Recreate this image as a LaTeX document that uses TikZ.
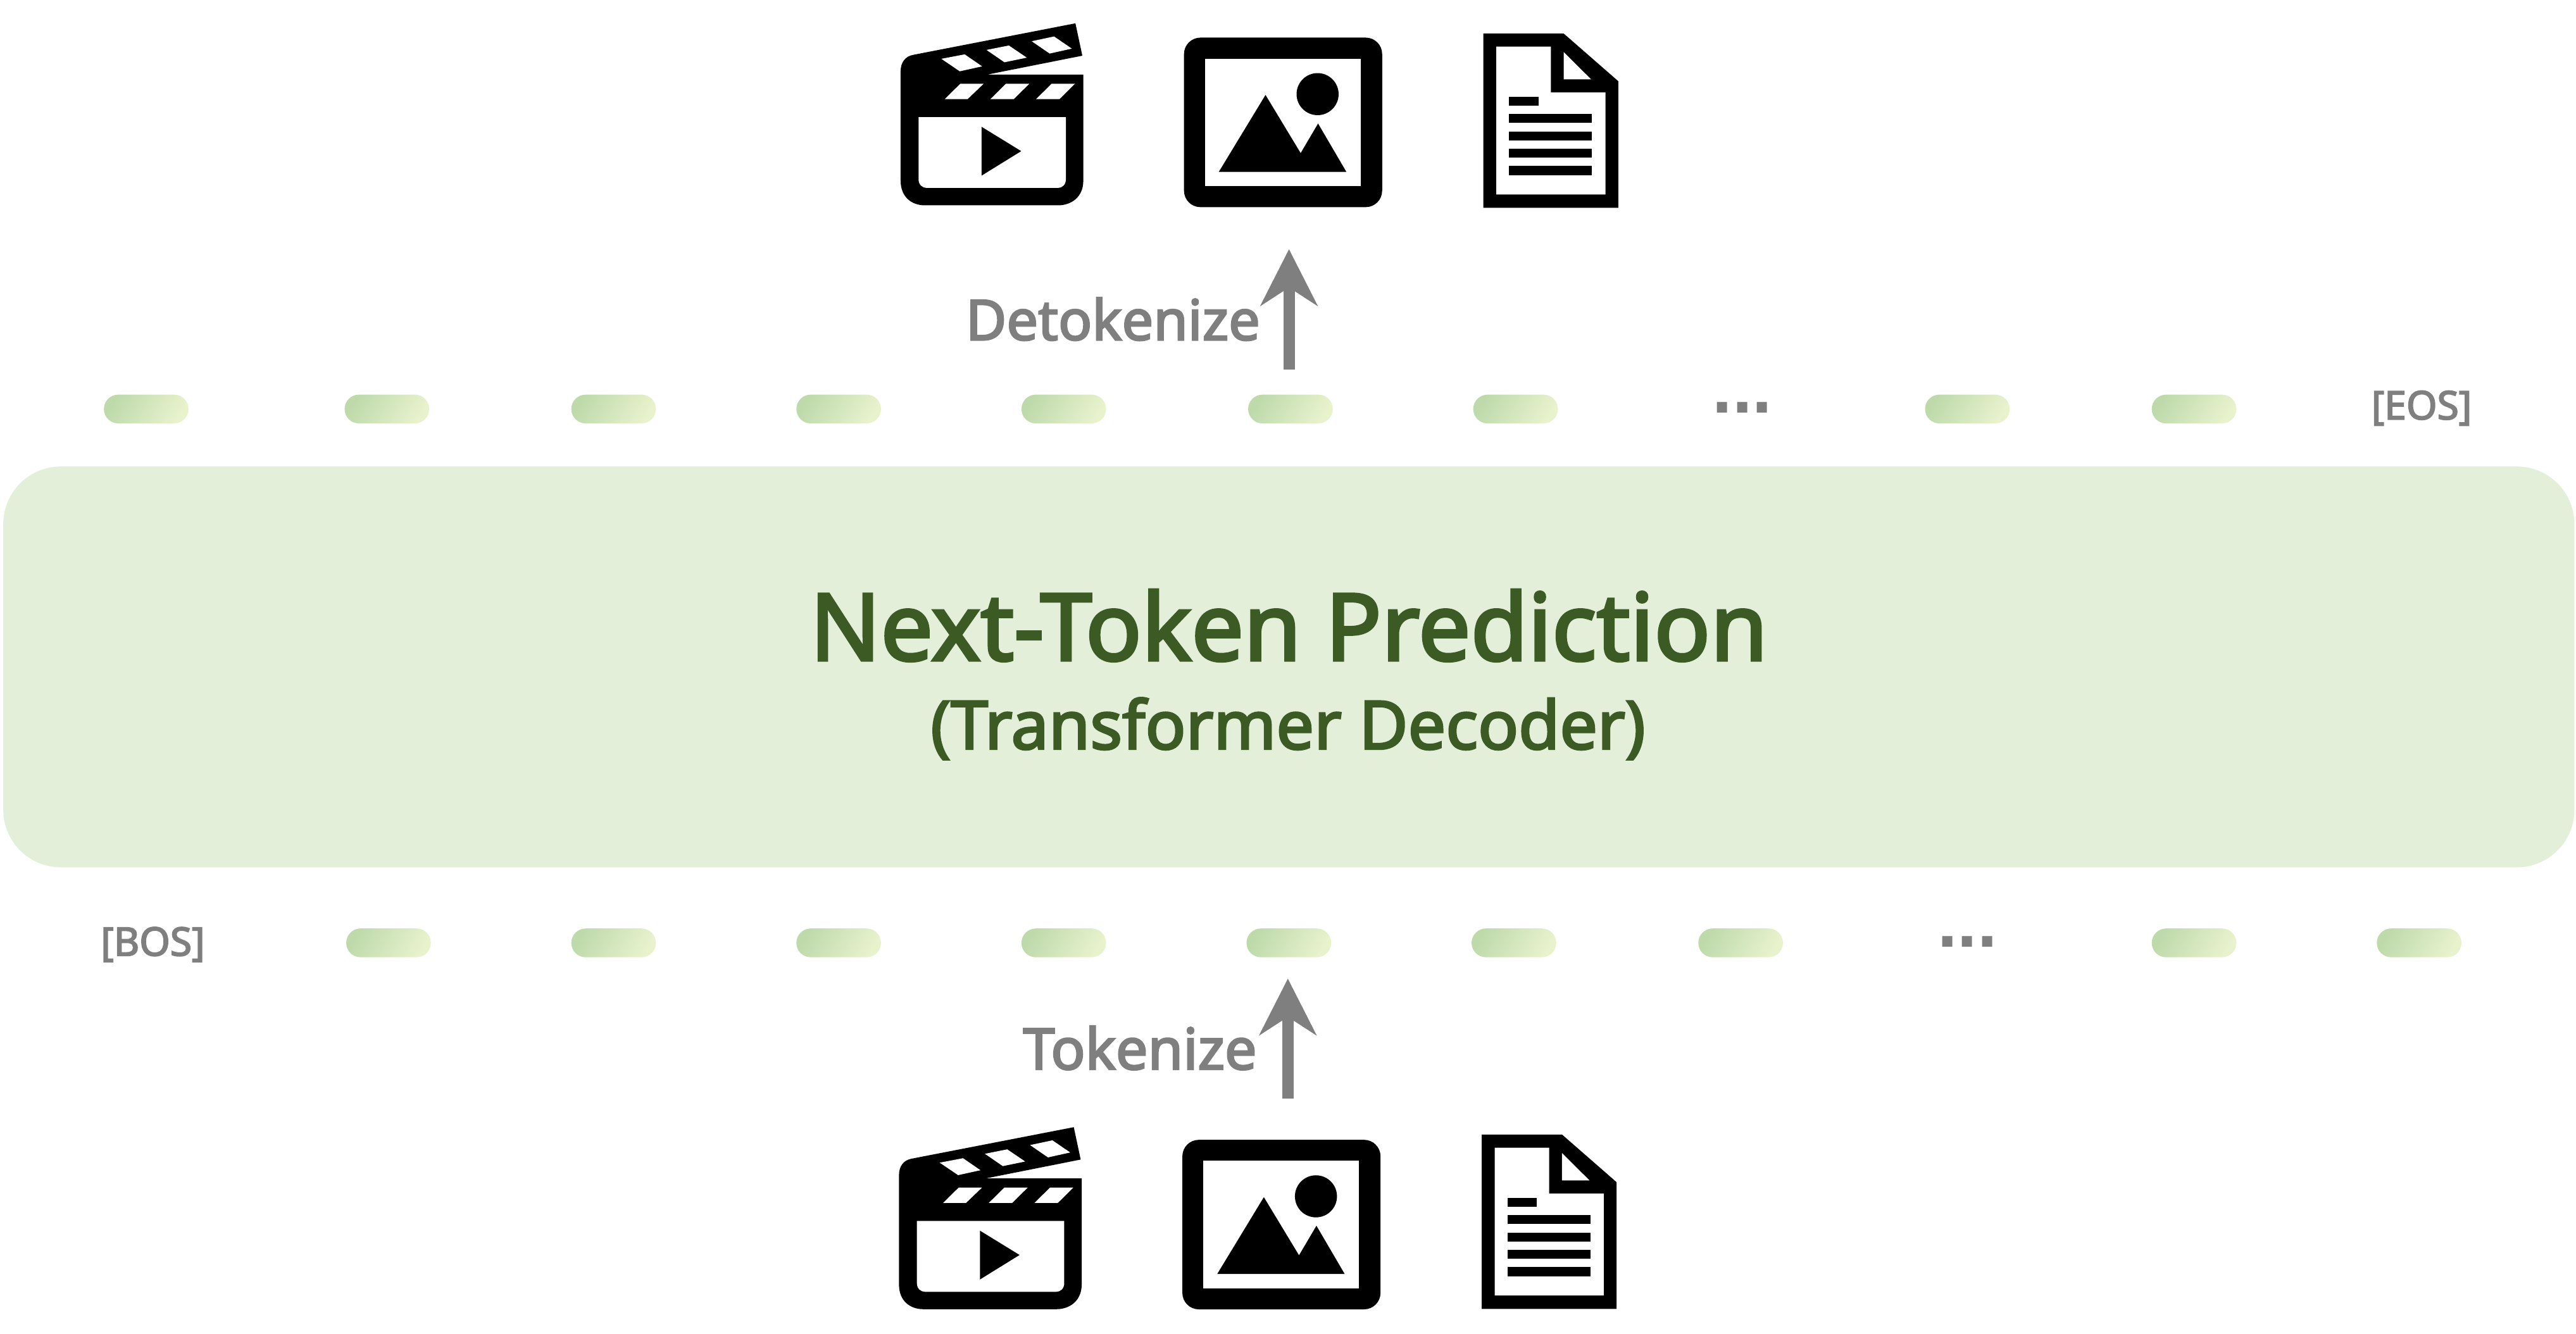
\documentclass[tikz,border=0pt]{standalone}
\usepackage{fontspec}
\usetikzlibrary{arrows.meta,shapes.misc}
\newfontfamily\labfont[FakeBold=3]{Noto Sans}
\newfontfamily\maintxt[FakeBold=3]{Noto Sans}
\newfontfamily\dotfont{Liberation Sans Bold}
\definecolor{boxg}{HTML}{E3EFD9}
\definecolor{dkg}{HTML}{3B5A24}
\definecolor{gry}{HTML}{7F7F7F}
\definecolor{pa}{HTML}{BEDAAB}
\definecolor{pb}{HTML}{E8F2CD}
\tikzset{
  pill/.style={rounded corners=8.7pt,minimum width=51.5pt,minimum height=17.5pt,inner sep=0pt,outer sep=0pt,left color=pa,right color=pb,shading angle=60},
  glab/.style={text=gry,inner sep=0pt,outer sep=0pt,font=\labfont\fontsize{34}{36}\selectfont,anchor=base east},
  smlab/.style={text=gry,inner sep=0pt,outer sep=0pt,font=\labfont\fontsize{24}{26}\selectfont,anchor=center},
  dots/.style={text=gry,inner sep=0pt,outer sep=0pt,font=\dotfont\fontsize{43.5}{46}\selectfont,anchor=base},
  flow/.style={draw=gry,line width=7pt,-{Stealth[length=34.3pt,width=34.5pt,inset=11pt]}}
}
\newcommand{\MediaIcons}[4]{%
\begin{scope}[shift={(#1,#2)}]
  % clapperboard
  \fill[black] (555.8,33.4) -- (654.6,14.2) -- (658.8,33.9) -- (601,45.4) -- (659.4,45.4) -- (659.4,110)
    .. controls (659.4,120) and (652,125) .. (644,125) -- (563,125)
    .. controls (555,125) and (548.2,120) .. (548.2,110) -- (548.2,43.4)
    .. controls (548.2,38) and (551,34.3) .. (555.8,33.4) -- cycle;
  \fill[white] (559.1,71.3) -- (648.8,71.3) -- (648.8,109) .. controls (648.8,112.5) and (646.5,114.4) .. (644,114.4)
    -- (564,114.4) .. controls (561.5,114.4) and (559.1,112.5) .. (559.1,109) -- cycle;
  \fill[black] (597.5,77.2) -- (621.6,92) -- (597.5,106.9) -- cycle;
  \fill[white] (584.5,51) -- (598.7,51) -- (589,60.3) -- (575.1,60.3) -- cycle;
  \fill[white] (612.3,51) -- (626.5,51) -- (617.1,60.3) -- (602.9,60.3) -- cycle;
  \fill[white] (640.1,51) -- (654.3,51) -- (644.9,60.3) -- (630.7,60.3) -- cycle;
  \fill[white] (573,35.8) -- (587.2,33.1) -- (597.8,40.4) -- (584.2,43.4) -- cycle;
  \fill[white] (600.5,30.4) -- (614.1,27.7) -- (625,35.1) -- (611.4,37.9) -- cycle;
  \fill[white] (628,25.1) -- (641.6,22.2) -- (652.4,29.6) -- (638.9,32.6) -- cycle;
\end{scope}
\begin{scope}[shift={(#1,#3)}]
  % picture
  \fill[black,rounded corners=10pt] (720.7,22.9) rectangle (841.3,126.1);
  \fill[white] (733.4,35.7) rectangle (828.3,113.3);
  \fill[black] (802,57.3) circle[radius=12.8pt];
  \fill[black] (741.9,104.6) -- (770.3,57.8) -- (791.7,93.2) -- (802.3,75.2) -- (819.5,104.6) -- cycle;
\end{scope}
\begin{scope}[shift={(#1,#4)}]
  % document
  \fill[black] (902.9,20.4) -- (951.8,20.4) -- (985,49.4) -- (985,126.5) -- (902.9,126.5) -- cycle;
  \fill[white] (910.8,28.4) -- (944,28.4) -- (944,56.3) -- (977.2,56.3) -- (977.2,118.4) -- (910.8,118.4) -- cycle;
  \fill[white] (951.8,31.7) -- (968.5,48.3) -- (951.8,48.3) -- cycle;
  \fill[black] (918.6,58.8) rectangle (936.4,64.2);
  \fill[black] (918.6,69.3) rectangle (969,74.7);
  \fill[black] (918.6,80) rectangle (969,85.4);
  \fill[black] (918.6,90.5) rectangle (969,95.9);
  \fill[black] (918.6,101.1) rectangle (969,106.6);
\end{scope}}
\begin{document}
\begin{tikzpicture}[x=1pt,y=-1pt]
\useasboundingbox (0,0) rectangle (1568,812.1);
\MediaIcons{0}{0}{0}{0}
\MediaIcons{-1}{672}{671}{670.3}
% main box
\node[fill=boxg,rounded corners=35pt,minimum width=1565pt,minimum height=244pt,inner sep=0pt,outer sep=0pt] (core) at (784.5,406) {};
\node[text=dkg,inner sep=0pt,font=\maintxt\fontsize{56.6}{60}\selectfont,anchor=base] (title) at (784.5,402) {Next-Token Prediction};
\node[text=dkg,inner sep=0pt,font=\maintxt\fontsize{40.8}{44}\selectfont,anchor=base] (subtitle) at (784,456) {(Transformer Decoder)};
% top row
\foreach \n/\x in {t1/89,t2/235.5,t3/373.5,t4/510.5,t5/647.5,t6/785.5,t7/922.5,t9/1197.5,t10/1335.5}
  \node[pill] (\n) at (\x,249) {};
\node[dots] (t8) at (1060.5,251.4) {...};
\node[smlab] (eos) at (1474,248.5) {[EOS]};
% bottom row
\foreach \n/\x in {b2/236.5,b3/373.5,b4/510.5,b5/647.5,b6/784.5,b7/921.5,b8/1059.5,b10/1335.5,b11/1472.5}
  \node[pill] (\n) at (\x,574) {};
\node[dots] (b9) at (1197.5,576.5) {...};
\node[smlab] (bos) at (93,575) {[BOS]};
% arrows
\coordinate (toptip) at (784.6,151.7);
\coordinate (tokstart) at (783.9,668.7);
\draw[flow,shorten <=15.35pt] (t6.north -| toptip) -- (toptip);
\draw[flow,shorten >=13pt] (tokstart) -- (b6.south -| tokstart);
\node[glab] (detok) at (767,207) {Detokenize};
\node[glab,font=\labfont\fontsize{34.7}{36}\selectfont] (tok) at (765,651) {Tokenize};
\end{tikzpicture}
\end{document}
